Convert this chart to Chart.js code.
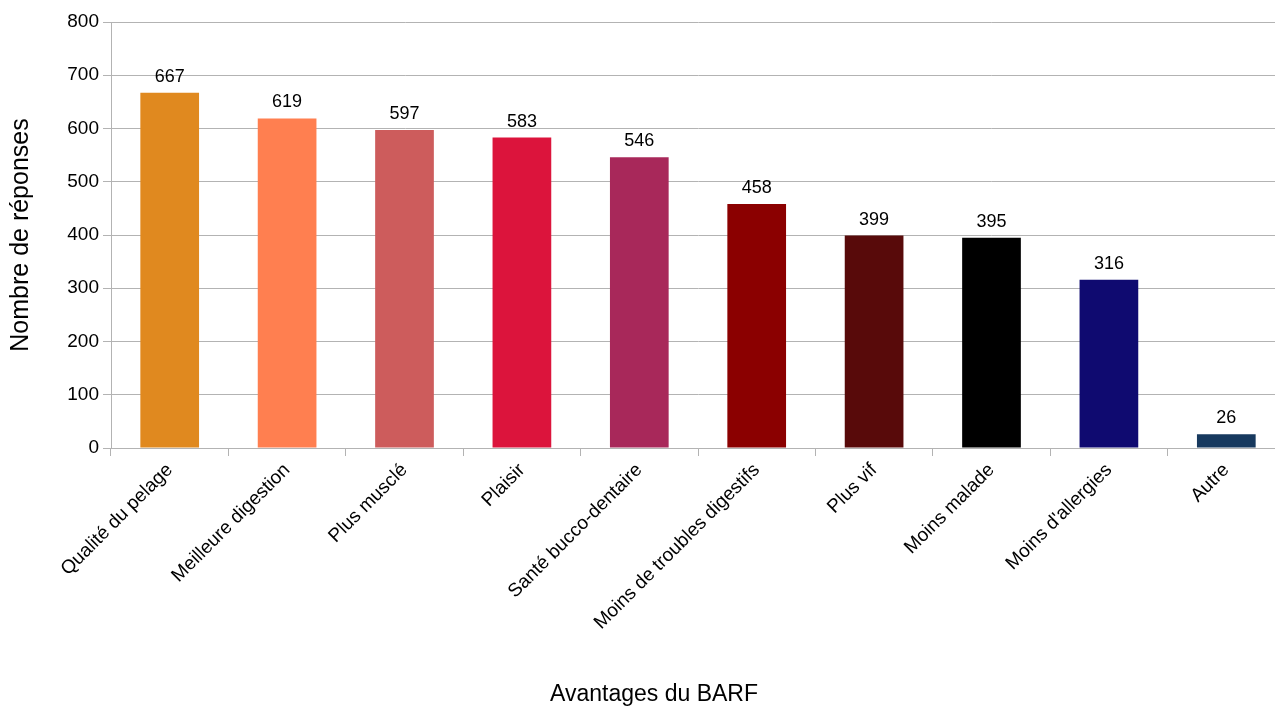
<!DOCTYPE html>
<html>
<head>
<meta charset="utf-8">
<script src="https://cdn.jsdelivr.net/npm/chart.js@4"></script>
<style>
  html, body { margin: 0; padding: 0; background: #fff; overflow: hidden; }
  #wrap { width: 1285px; height: 709px; }
</style>
</head>
<body>
<div id="wrap"><canvas id="graficaBarf"></canvas></div>
<script>
// Avantages du BARF
const categorias = [
  "Qualité du pelage", "Meilleure digestion", "Plus musclé", "Plaisir",
  "Santé bucco-dentaire", "Moins de troubles digestifs", "Plus vif",
  "Moins malade", "Moins d'allergies", "Autre"
];
const respuestas = [667, 619, 597, 583, 546, 458, 399, 395, 316, 26];
const colores = [
  "#e0891f", "#ff7f50", "#cd5c5c", "#dc143c", "#a8285a",
  "#8b0000", "#580a0a", "#000000", "#0f0a70", "#17395e"
];
const ticksY = [0, 100, 200, 300, 400, 500, 600, 700, 800];

const fuente = "'Liberation Sans', Arial, sans-serif";

// etiquetas encima de cada barra + titulo del eje x
const etiquetasValor = {
  id: "etiquetasValor",
  afterDatasetsDraw(chart) {
    const ctx = chart.ctx;
    const meta = chart.getDatasetMeta(0);
    ctx.save();
    ctx.font = "18px " + fuente;
    ctx.fillStyle = "#000";
    ctx.textAlign = "center";
    ctx.textBaseline = "bottom";
    meta.data.forEach((bar, i) => {
      ctx.fillText(String(respuestas[i]), bar.x, bar.y - 7);
    });
    // titulo del eje x
    ctx.font = "23px " + fuente;
    ctx.textBaseline = "middle";
    ctx.fillText("Avantages du BARF", 654, 695);
    ctx.restore();
  }
};

new Chart(document.getElementById("graficaBarf"), {
  type: "bar",
  data: {
    labels: categorias,
    datasets: [{
      label: "Nombre de réponses",
      data: respuestas,
      backgroundColor: colores,
      barPercentage: 0.5,
      categoryPercentage: 1.0
    }]
  },
  options: {
    responsive: true,
    maintainAspectRatio: false,
    animation: false,
    layout: { padding: { top: 22, right: 0, left: 0, bottom: 0 } },
    plugins: {
      legend: { display: false },
      tooltip: { enabled: false }
    },
    scales: {
      x: {
        afterFit(scale) { scale.height = 261; },
        grid: {
          offset: true,
          drawOnChartArea: false,
          tickLength: 8,
          color: "#b3b3b3"
        },
        border: { color: "#b3b3b3" },
        ticks: {
          minRotation: 45,
          maxRotation: 45,
          color: "#000",
          font: { family: fuente, size: 19 }
        }
      },
      y: {
        min: 0,
        max: 800,
        afterFit(scale) { scale.width = 111; },
        afterBuildTicks(scale) { scale.ticks = ticksY.map(v => ({ value: v })); },
        grid: { color: "#b3b3b3", tickLength: 8 },
        border: { color: "#b3b3b3" },
        ticks: {
          color: "#000",
          padding: 4,
          font: { family: fuente, size: 19 }
        },
        title: {
          display: true,
          text: "Nombre de réponses",
          color: "#000",
          font: { family: fuente, size: 25 },
          padding: { top: 6, bottom: 0 }
        }
      }
    }
  },
  plugins: [etiquetasValor]
});
</script>
</body>
</html>
